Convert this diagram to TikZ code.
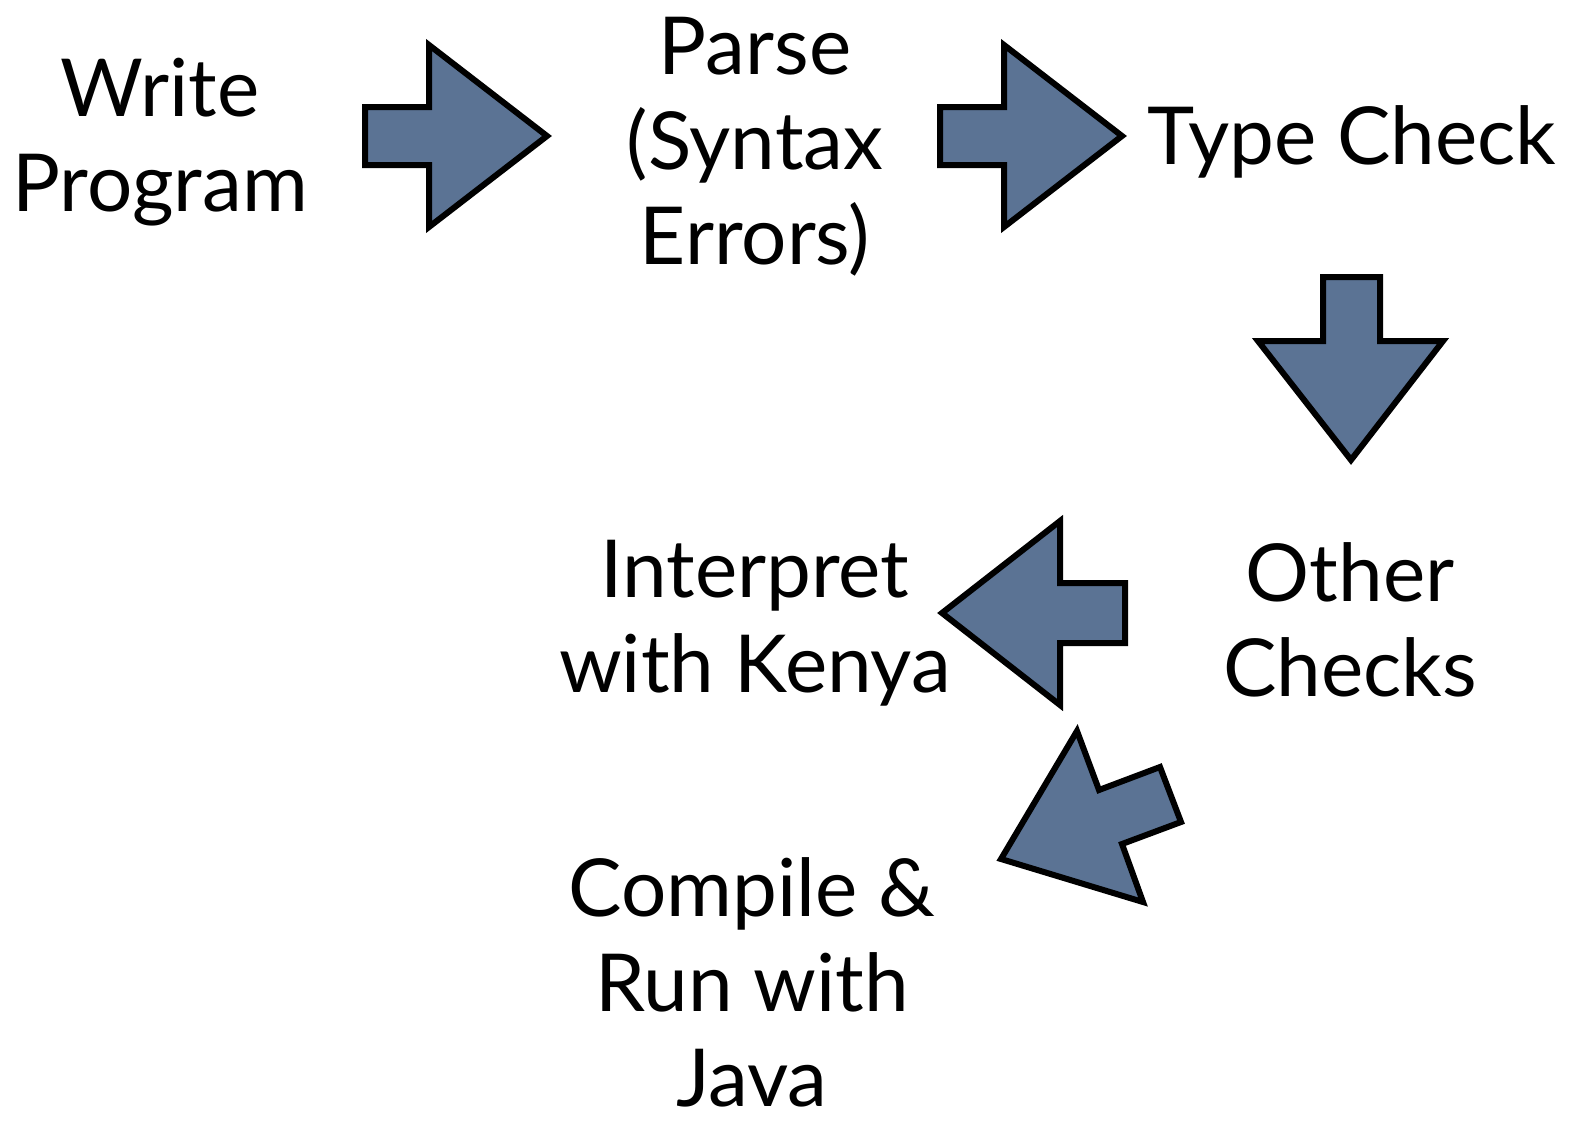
\documentclass[tikz,border=0pt]{standalone}
\usepackage{fontspec}
\setmainfont{Lato}
\begin{document}
\begin{tikzpicture}[x=1pt,y=-1pt,
  lbl/.style={align=center,font=\fontsize{80}{95}\selectfont,inner sep=0pt},
  blockarrow/.style={draw=black,line width=6pt,line join=miter,fill=arrowfill}]
\definecolor{arrowfill}{HTML}{5B7394}
\useasboundingbox (0,0) rectangle (1570,1124);
\node[lbl] (write) at (160,142) {Write\\Program};
\node[lbl] (parse) at (755,147) {Parse\\(Syntax\\Errors)};
\node[lbl] (type) at (1352,142) {Type Check};
\node[lbl] (other) at (1350,620) {Other\\Checks};
\node[lbl] (interp) at (755,623) {Interpret\\with Kenya};
\node[lbl] (compile) at (752,982) {Compile \&\\Run with\\Java};
\draw[blockarrow] (365,107) -- (429,107) -- (429,45) -- (547,136) -- (429,227) -- (429,165) -- (365,165) -- cycle;
\draw[blockarrow] (940,107) -- (1004,107) -- (1004,45) -- (1122,136) -- (1004,227) -- (1004,165) -- (940,165) -- cycle;
\draw[blockarrow] (1323,277) -- (1380,277) -- (1380,341) -- (1443,341) -- (1351,460) -- (1258,341) -- (1323,341) -- cycle;
\draw[blockarrow] (1125,583) -- (1060,583) -- (1060,521) -- (942,613) -- (1060,705) -- (1060,643) -- (1125,643) -- cycle;
\draw[blockarrow] (1077,731) -- (1099,790) -- (1160,767) -- (1181,822) -- (1122,844) -- (1143,902) -- (1001,859) -- cycle;
\end{tikzpicture}
\end{document}
